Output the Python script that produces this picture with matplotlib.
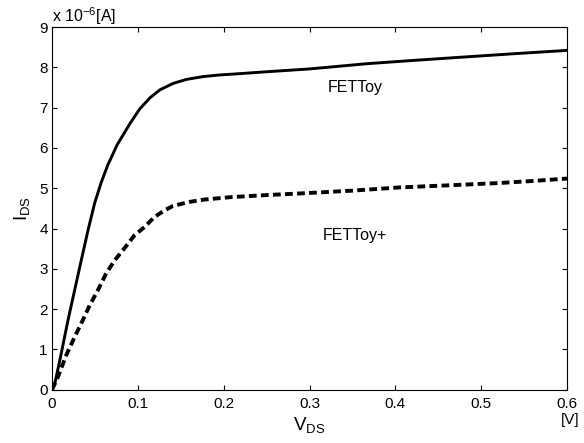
import matplotlib
matplotlib.use("Agg")
import matplotlib.pyplot as plt

plt.rcParams['font.family'] = ['Liberation Sans', 'DejaVu Sans']
plt.rcParams['mathtext.fontset'] = 'custom'
plt.rcParams['mathtext.rm'] = 'Liberation Sans'
plt.rcParams['mathtext.it'] = 'Liberation Sans'

# V_DS [V] and I_DS [x 1e-6 A]
vds_fettoy = [0.0, 0.003, 0.0108, 0.0186, 0.0264, 0.0341, 0.0419, 0.0497, 0.0573,
              0.0651, 0.076, 0.0907, 0.1023, 0.114, 0.1256, 0.141, 0.1566, 0.176,
              0.195, 0.2166, 0.25, 0.30, 0.367, 0.42, 0.483, 0.54, 0.6]
ids_fettoy = [0.0, 0.12, 0.90, 1.72, 2.47, 3.21, 3.95, 4.63, 5.14,
              5.58, 6.08, 6.60, 6.97, 7.24, 7.44, 7.60, 7.70, 7.77,
              7.81, 7.84, 7.89, 7.96, 8.09, 8.17, 8.26, 8.34, 8.42]

vds_plus = [0.0, 0.007, 0.0167, 0.0264, 0.034, 0.0438, 0.0535, 0.063, 0.073,
            0.0826, 0.096, 0.108, 0.119, 0.131, 0.141, 0.16, 0.178, 0.209,
            0.25, 0.289, 0.35, 0.405, 0.46, 0.522, 0.56, 0.6]
ids_plus = [0.0, 0.32, 0.86, 1.31, 1.64, 2.09, 2.47, 2.88, 3.21,
            3.46, 3.83, 4.04, 4.28, 4.45, 4.56, 4.66, 4.72, 4.78,
            4.83, 4.87, 4.94, 5.02, 5.07, 5.13, 5.18, 5.24]

xticks = [0, 0.1, 0.2, 0.3, 0.4, 0.5, 0.6]
yticks = list(range(0, 10))

fig = plt.figure(figsize=(5.84, 4.43), dpi=100)
ax = fig.add_axes([0.089, 0.1203, 0.882, 0.8187])

ax.plot(vds_fettoy, ids_fettoy, color='black', linewidth=2.1)
ax.plot(vds_plus, ids_plus, color='black', linewidth=2.8, linestyle=(0, (2.0, 1.1)))

ax.text(0.353, 7.5, 'FETToy', ha='center', va='center', fontsize=11.5)
ax.text(0.353, 3.82, 'FETToy+', ha='center', va='center', fontsize=11.5)

ax.set_xlim(0, 0.6)
ax.set_ylim(0, 9)
ax.set_xticks(xticks)
ax.set_xticklabels([f'{t:g}' for t in xticks])
ax.set_yticks(yticks)
ax.tick_params(direction='in', top=True, right=True, length=3.5, width=0.8,
               labelsize=11)
ax.tick_params(axis='x', pad=5)
ax.tick_params(axis='y', pad=3)
for s in ax.spines.values():
    s.set_linewidth(0.8)

ax.set_xlabel(r'$\mathregular{V_{DS}}$', fontsize=13.5, labelpad=3)
ax.set_ylabel(r'$\mathregular{I_{DS}}$', fontsize=13.5, labelpad=5)
ax.text(1.0058, -0.0835, '[V]', transform=ax.transAxes, ha='center', va='center', fontsize=11)
ax.text(0.0, 1.014, r'x 10$^{\mathregular{-6}}$[A]', transform=ax.transAxes,
        ha='left', va='baseline', fontsize=11.5)

fig.savefig('out.png', dpi=100)
